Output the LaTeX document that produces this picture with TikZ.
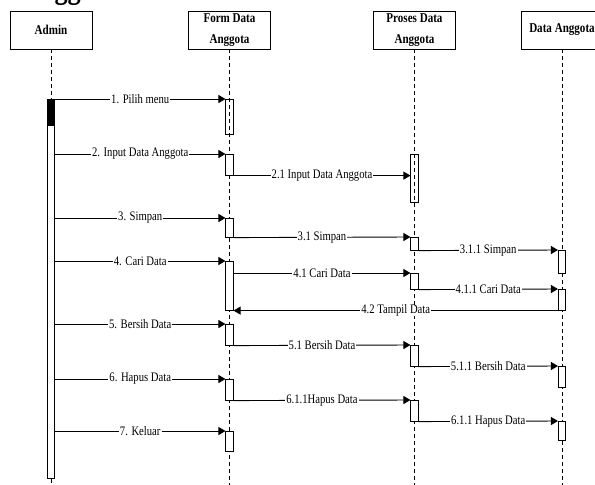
\documentclass[tikz,border=0pt]{standalone}
\usepackage{fontspec}
\setmainfont{Liberation Serif}[FakeStretch=0.82]
\usetikzlibrary{arrows.meta, positioning}

\begin{document}
\begin{tikzpicture}[x=1pt, y=-1pt,
    every node/.style={font=\fontsize{13}{15}\selectfont},
    head/.style={draw, line width=0.7pt, minimum width=82pt, minimum height=38pt, inner sep=0pt,
        font=\bfseries\fontsize{13.5}{21}\selectfont, align=center},
    bar/.style={draw, line width=0.6pt, minimum width=7.5pt, inner sep=0pt, anchor=north},
    life/.style={dash pattern=on 4pt off 3pt, line width=0.6pt},
    msg/.style={-{Triangle[length=7pt,width=8pt]}, line width=0.9pt},
    lbl/.style={fill=white, inner xsep=1pt, inner ysep=0pt}]
            \useasboundingbox (0,0) rectangle (595,485);
            \coordinate (bot) at (0,485);
            % cut-off title
            \node[font=\bfseries\fontsize{32}{34}\selectfont, anchor=base east, inner sep=0pt] (title) at (116,-2) {Anggota};
            % objects
            \node[head] (admin) at (51,30) {Admin};
            \node[head] (form) at (229.5,30) {Form Data\\Anggota};
            \node[head] (proses) at (414.5,30) {Proses Data\\Anggota};
            \node[head] (data) at (562,30) {Data Anggota};
            % lifelines
            \node[bar, fill=white, minimum height=379pt] (abar) at (51,99) {};
            \draw[life] (admin.south) -- (abar.north);
            \draw[life] (abar.south) -- (abar.south |- bot);
            \draw[life] (form.south) -- (form.south |- bot);
            \draw[life] (proses.south) -- (proses.south |- bot);
            \draw[life] (data.south) -- (data.south |- bot);
            \node[bar, fill=black, minimum height=26pt] (atop) at (51,99) {};
            % activations
            \node[bar, minimum height=35pt] (f1) at (229.5,99) {};
            \node[bar, fill=white, minimum height=21pt] (f2) at (229.5,154) {};
            \node[bar, fill=white, minimum height=19pt] (f3) at (229.5,218) {};
            \node[bar, fill=white, minimum height=49pt] (f4) at (229.5,261) {};
            \node[bar, fill=white, minimum height=21pt] (f5) at (229.5,324) {};
            \node[bar, fill=white, minimum height=21pt] (f6) at (229.5,379) {};
            \node[bar, fill=white, minimum height=20pt] (f7) at (229.5,431) {};
            \node[bar, minimum height=48pt] (p2) at (414.5,154) {};
            \node[bar, fill=white, minimum height=13pt] (p3) at (414.5,237) {};
            \node[bar, fill=white, minimum height=16pt] (p4) at (414.5,273) {};
            \node[bar, fill=white, minimum height=21pt] (p5) at (414.5,345) {};
            \node[bar, fill=white, minimum height=21pt] (p6) at (414.5,400) {};
            \node[bar, fill=white, minimum height=23pt] (d3) at (562,250) {};
            \node[bar, fill=white, minimum height=21pt] (d4) at (562,289) {};
            \node[bar, fill=white, minimum height=21pt] (d5) at (562,366) {};
            \node[bar, fill=white, minimum height=19pt] (d6) at (562,421) {};
            % messages
            \draw[msg] (abar.east |- f1.north) -- node[lbl] {1. Pilih menu} (f1.north west);
            \draw[msg] (abar.east |- f2.north) -- node[lbl] {2. Input Data Anggota} (f2.north west);
            \draw[msg] (f2.south east) -- node[lbl] {2.1 Input Data Anggota} (p2.west |- f2.south east);
            \draw[msg] (abar.east |- f3.north) -- node[lbl] {3. Simpan} (f3.north west);
            \draw[msg] (f3.south east) -- node[lbl] {3.1 Simpan} (p3.north west);
            \draw[msg] (p3.south east) -- node[lbl] {3.1.1 Simpan} (d3.north west);
            \draw[msg] (abar.east |- f4.north) -- node[lbl] {4. Cari Data} (f4.north west);
            \draw[msg] (f4.east |- p4.north) -- node[lbl] {4.1 Cari Data} (p4.north west);
            \draw[msg] (p4.south east) -- node[lbl] {4.1.1 Cari Data} (d4.north west);
            \draw[msg] (d4.south west) -- node[lbl] {4.2 Tampil Data} (f4.south east);
            \draw[msg] (abar.east |- f5.north) -- node[lbl] {5. Bersih Data} (f5.north west);
            \draw[msg] (f5.south east) -- node[lbl] {5.1 Bersih Data} (p5.north west);
            \draw[msg] (p5.south east) -- node[lbl] {5.1.1 Bersih Data} (d5.north west);
            \draw[msg] (abar.east |- f6.north) -- node[lbl] {6. Hapus Data} (f6.north west);
            \draw[msg] (f6.south east) -- node[lbl] {6.1.1Hapus Data} (p6.north west);
            \draw[msg] (p6.south east) -- node[lbl] {6.1.1 Hapus Data} (d6.north west);
            \draw[msg] (abar.east |- f7.north) -- node[lbl] {7. Keluar} (f7.north west);
\end{tikzpicture}
\end{document}
